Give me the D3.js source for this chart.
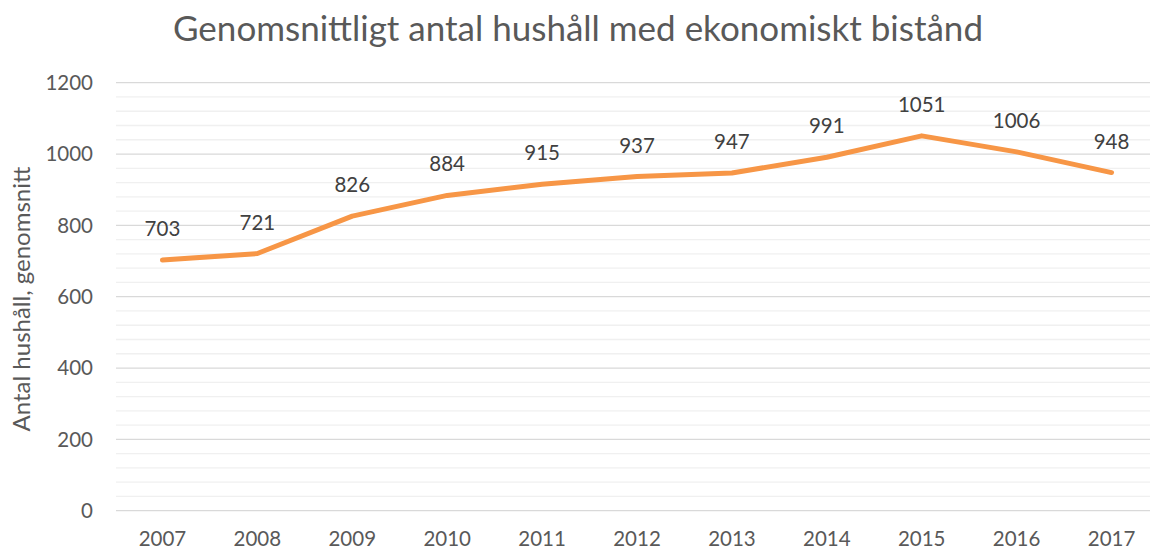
<!DOCTYPE html>
<html>
<head>
<meta charset="utf-8">
<script src="https://cdn.jsdelivr.net/npm/d3@7"></script>
<style>
  body { margin: 0; background: #fff; }
  svg { display: block; font-family: Lato, "Open Sans", sans-serif; }
</style>
</head>
<body>
<svg id="chart"></svg>
<script>
const years = ["2007","2008","2009","2010","2011","2012","2013","2014","2015","2016","2017"]
const households = [703, 721, 826, 884, 915, 937, 947, 991, 1051, 1006, 948]
const yTicks = [0, 200, 400, 600, 800, 1000, 1200]

const width = 1150, height = 552
const svg = d3.select("#chart").attr("width", width).attr("height", height)

const x = d3.scaleBand().domain(years).range([115, 1159])
const y = d3.scaleLinear().domain([0, 1200]).range([510.7, 82.7])

// minor gridlines every 40
svg.append("g").selectAll("line")
  .data(d3.range(0, 1201, 40).filter(v => v % 200 !== 0))
  .enter().append("line")
  .attr("x1", 116).attr("x2", width)
  .attr("y1", d => y(d)).attr("y2", d => y(d))
  .attr("stroke", "#f0f0f0").attr("stroke-width", 1.3)

// major gridlines
svg.append("g").selectAll("line")
  .data(yTicks)
  .enter().append("line")
  .attr("x1", 116).attr("x2", width)
  .attr("y1", d => y(d)).attr("y2", d => y(d))
  .attr("stroke", "#d9d9d9").attr("stroke-width", 1.3)

// y tick labels
svg.append("g").selectAll("text")
  .data(yTicks)
  .enter().append("text")
  .attr("x", 93).attr("y", d => y(d))
  .attr("dy", "0.35em")
  .attr("text-anchor", "end")
  .attr("font-size", 20.5).attr("fill", "#595959")
  .text(d => d)

// x tick labels
svg.append("g").selectAll("text")
  .data(years)
  .enter().append("text")
  .attr("x", d => x(d) + x.bandwidth() / 2)
  .attr("y", 546)
  .attr("text-anchor", "middle")
  .attr("font-size", 20.5).attr("fill", "#595959")
  .text(d => d)

// line
const line = d3.line()
  .x((d, i) => x(years[i]) + x.bandwidth() / 2)
  .y(d => y(d))

svg.append("path")
  .datum(households)
  .attr("d", line)
  .attr("fill", "none")
  .attr("stroke", "#f79646")
  .attr("stroke-width", 5)
  .attr("stroke-linecap", "round")
  .attr("stroke-linejoin", "round")

// data labels
svg.append("g").selectAll("text")
  .data(households)
  .enter().append("text")
  .attr("x", (d, i) => x(years[i]) + x.bandwidth() / 2)
  .attr("y", d => y(d) - 24)
  .attr("text-anchor", "middle")
  .attr("font-size", 20.5).attr("fill", "#404040")
  .text(d => d)

// title
svg.append("text")
  .attr("x", 578).attr("y", 41)
  .attr("text-anchor", "middle")
  .attr("font-size", 35).attr("fill", "#595959")
  .text("Genomsnittligt antal hushåll med ekonomiskt bistånd")

// y axis title
svg.append("text")
  .attr("transform", "translate(30,299) rotate(-90)")
  .attr("text-anchor", "middle")
  .attr("font-size", 24).attr("fill", "#595959")
  .text("Antal hushåll, genomsnitt")
</script>
</body>
</html>
